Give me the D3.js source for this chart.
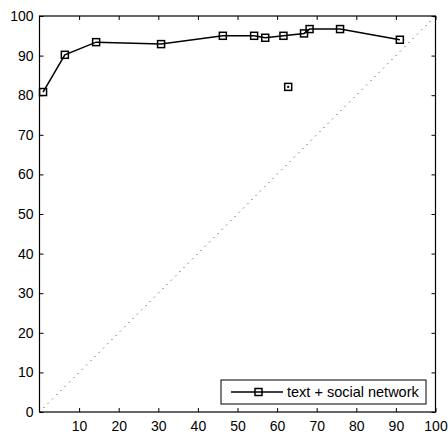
<!DOCTYPE html>
<html>
<head>
<meta charset="utf-8">
<script src="https://cdn.jsdelivr.net/npm/d3@7"></script>
<style>
  body { margin: 0; background: #fff; }
  svg { display: block; font-family: 'Liberation Sans', Arial, sans-serif; }
</style>
</head>
<body>
<div id="wrapper"></div>
<script>
// data
const xValues = [0.9, 6.4, 14.3, 30.7, 46.3, 54.2, 57.0, 61.6, 66.8, 68.2, 75.9, 91.0]
const yValues = [80.8, 90.2, 93.4, 92.9, 95.0, 95.0, 94.5, 95.0, 95.6, 96.7, 96.7, 94.0]
const outlier = [62.8, 82.1]
const xTicks = [10, 20, 30, 40, 50, 60, 70, 80, 90, 100]
const yTicks = [0, 10, 20, 30, 40, 50, 60, 70, 80, 90, 100]
const seriesLabel = 'text + social network'

const dms = {
    width: 448,
    height: 434,
    margins: { top: 16, right: 12.5, bottom: 22, left: 39.5 }
}
dms.boundedWidth = dms.width - dms.margins.left - dms.margins.right
dms.boundedHeight = dms.height - dms.margins.top - dms.margins.bottom

const svg = d3.select('#wrapper')
    .append('svg')
        .attr('width', dms.width)
        .attr('height', dms.height)

const bounds = svg.append('g')
    .attr('transform', `translate(${dms.margins.left},${dms.margins.top})`)

const xScale = d3.scaleLinear().domain([0, 100]).range([0, dms.boundedWidth])
const yScale = d3.scaleLinear().domain([0, 100]).range([dms.boundedHeight, 0])

// diagonal y = x
bounds.append('line')
    .attr('x1', xScale(0)).attr('y1', yScale(0))
    .attr('x2', xScale(100)).attr('y2', yScale(100))
    .attr('stroke', '#222')
    .attr('stroke-width', 1)
    .attr('stroke-dasharray', '1 5')

// axes (ticks inward, box all around)
const styleAxis = g => {
    g.select('.domain').remove()
    g.selectAll('.tick line').attr('stroke', '#000')
    g.selectAll('.tick text').attr('fill', '#000').style('font-size', '14px')
}

bounds.append('g')
    .attr('transform', `translate(0,${dms.boundedHeight})`)
    .call(d3.axisBottom(xScale).tickValues(xTicks).tickSizeInner(-4).tickSizeOuter(0).tickPadding(9))
    .call(styleAxis)

bounds.append('g')
    .call(d3.axisTop(xScale).tickValues(xTicks).tickSizeInner(-4).tickSizeOuter(0).tickFormat(''))
    .call(styleAxis)

bounds.append('g')
    .call(d3.axisLeft(yScale).tickValues(yTicks).tickSizeInner(-4).tickSizeOuter(0).tickPadding(6))
    .call(styleAxis)

bounds.append('g')
    .attr('transform', `translate(${dms.boundedWidth},0)`)
    .call(d3.axisRight(yScale).tickValues(yTicks).tickSizeInner(-4).tickSizeOuter(0).tickFormat(''))
    .call(styleAxis)

bounds.append('rect')
    .attr('width', dms.boundedWidth)
    .attr('height', dms.boundedHeight)
    .attr('fill', 'none')
    .attr('stroke', '#000')
    .attr('stroke-width', 1.2)

// series
const points = xValues.map((x, i) => ({ x, y: yValues[i] }))
const lineGen = d3.line().x(d => xScale(d.x)).y(d => yScale(d.y))

bounds.append('path')
    .attr('d', lineGen(points))
    .attr('fill', 'none')
    .attr('stroke', '#000')
    .attr('stroke-width', 1.5)

const ms = 7
bounds.selectAll('.marker')
    .data(points)
    .join('rect')
        .attr('class', 'marker')
        .attr('x', d => xScale(d.x) - ms / 2)
        .attr('y', d => yScale(d.y) - ms / 2)
        .attr('width', ms)
        .attr('height', ms)
        .attr('fill', 'none')
        .attr('stroke', '#000')
        .attr('stroke-width', 1.5)

// lone point
bounds.append('rect')
    .attr('x', xScale(outlier[0]) - ms / 2)
    .attr('y', yScale(outlier[1]) - ms / 2)
    .attr('width', ms)
    .attr('height', ms)
    .attr('fill', 'none')
    .attr('stroke', '#000')
    .attr('stroke-width', 1.5)
bounds.append('rect')
    .attr('x', xScale(outlier[0]) - 1)
    .attr('y', yScale(outlier[1]) - 1)
    .attr('width', 2)
    .attr('height', 2)
    .attr('fill', '#000')

// legend
const legend = svg.append('g').attr('transform', 'translate(221,380)')
legend.append('rect')
    .attr('width', 205)
    .attr('height', 24)
    .attr('fill', '#fff')
    .attr('stroke', '#000')
legend.append('line')
    .attr('x1', 10).attr('x2', 62)
    .attr('y1', 12).attr('y2', 12)
    .attr('stroke', '#000')
    .attr('stroke-width', 1.5)
legend.append('rect')
    .attr('x', 37.5 - ms / 2).attr('y', 12 - ms / 2)
    .attr('width', ms).attr('height', ms)
    .attr('fill', 'none')
    .attr('stroke', '#000')
    .attr('stroke-width', 1.5)
legend.append('text')
    .attr('x', 66)
    .attr('y', 17)
    .style('font-size', '14.5px')
    .text(seriesLabel)
</script>
</body>
</html>
